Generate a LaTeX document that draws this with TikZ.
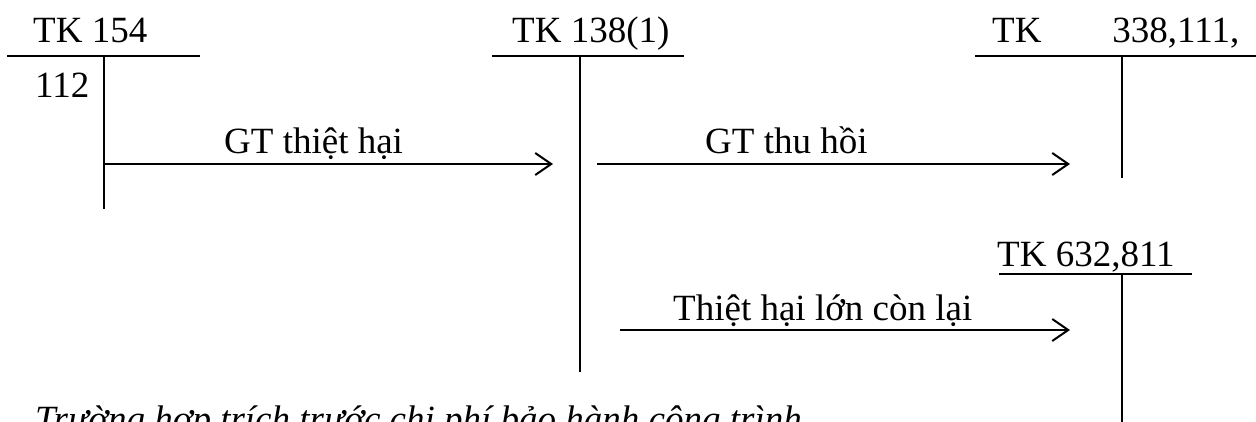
\documentclass[tikz,border=0pt]{standalone}
\usepackage{fontspec}
\setmainfont{Liberation Serif}
\usetikzlibrary{arrows.meta}
\begin{document}
\begin{tikzpicture}[x=1pt,y=-1pt,
  rule/.style={line width=2pt},
  flow/.style={line width=2pt,-{Straight Barb[length=16pt,width=22pt,line width=2pt]}},
  lbl/.style={inner sep=0pt,anchor=base west,font=\fontsize{37}{44}\selectfont},
  note/.style={lbl,font=\fontsize{37}{44}\selectfont\itshape}]
\useasboundingbox (0,0) rectangle (1256,421);
\clip (0,0) rectangle (1256,421);

% account headings
\node[lbl] (t154) at (33,42) {TK 154};
\node[lbl] (n112) at (35,97) {112};
\node[lbl] (t138) at (512,42) {TK 138(1)};
\node[lbl] (t338) at (992,42) {TK\hspace{71pt}338,111,};
\node[lbl] (t632) at (997,266) {TK 632,811};

% T-account rules
\coordinate (a1l) at (7,56);   \coordinate (a1r) at (200,56);
\coordinate (a1t) at (104,56); \coordinate (a1b) at (104,209);
\coordinate (a2l) at (492,56); \coordinate (a2r) at (684,56);
\coordinate (a2t) at (580,56); \coordinate (a2b) at (580,372);
\coordinate (a3l) at (975,56); \coordinate (a3r) at (1256,56);
\coordinate (a3t) at (1122,56); \coordinate (a3b) at (1122,178);
\coordinate (a4l) at (999,274); \coordinate (a4r) at (1192,274);
\coordinate (a4t) at (1122,274); \coordinate (a4b) at (1122,430);

\draw[rule] (a1l) -- (a1r) (a1t) -- (a1b);
\draw[rule] (a2l) -- (a2r) (a2t) -- (a2b);
\draw[rule] (a3l) -- (a3r) (a3t) -- (a3b);
\draw[rule] (a4l) -- (a4r) (a4t) -- (a4b);

% flows between accounts
\coordinate (f1s) at (104,164); \coordinate (f1e) at (553,164);
\coordinate (f2s) at (597,164); \coordinate (f2e) at (1070,164);
\coordinate (f3s) at (620,330); \coordinate (f3e) at (1070,330);
\draw[flow] (f1s) -- (f1e);
\draw[flow] (f2s) -- (f2e);
\draw[flow] (f3s) -- (f3e);

\node[lbl] (l1) at (224,153) {GT thiệt hại};
\node[lbl] (l2) at (705,153) {GT thu hồi};
\node[lbl] (l3) at (673,320) {Thiệt hại lớn còn lại};

% caption of the next case
\node[note] (cap) at (35,431) {Trường hợp trích trước chi phí bảo hành công trình};
\end{tikzpicture}
\end{document}
